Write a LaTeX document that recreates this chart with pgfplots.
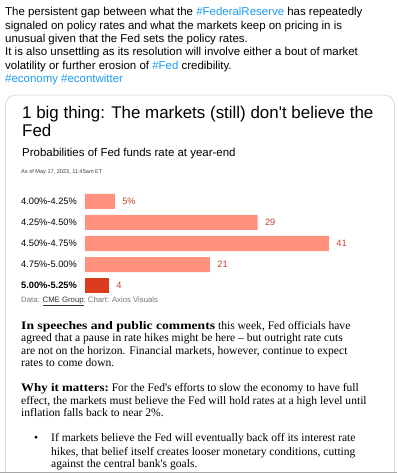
\documentclass[border=0pt]{standalone}
\usepackage{pgfplots}
\pgfplotsset{compat=1.18}
\usepackage{fontspec}
\setmainfont{Liberation Sans}[Ligatures=TeXOff]
\newfontfamily\bodyserif{Liberation Serif}[Ligatures=TeXOff]
\definecolor{twblue}{HTML}{1D9BF0}
\definecolor{barlight}{HTML}{FF917D}
\definecolor{bardark}{HTML}{DC3C1E}
\definecolor{vallab}{HTML}{C0452B}
\definecolor{cardline}{HTML}{D6DDE1}
\definecolor{srcgray}{HTML}{777777}
\begin{document}
\begin{tikzpicture}[x=1bp,y=1bp]
\path[use as bounding box] (0,0) rectangle (397,-473);
\fill[white] (0,0) rectangle (397,-473);
\begin{scope}
\clip (0,0) rectangle (397,-473);
% tweet text
\def\tw{\fontsize{11.5}{13}\selectfont}
\tikzset{tl/.style={anchor=base west, inner sep=0pt}}
\node[tl] at (5,1) {\tw From: \textcolor{twblue}{@Axios}};
\node[tl] at (5,-16) {\tw The persistent gap between what the \textcolor{twblue}{\#FederalReserve} has repeatedly};
\node[tl] at (5,-29.4) {\tw signaled on policy rates and what the markets keep on pricing in is};
\node[tl] at (5,-42.7) {\tw unusual given that the Fed sets the policy rates.};
\node[tl] at (5,-56) {\tw It is also unsettling as its resolution will involve either a bout of market};
\node[tl] at (5,-69.3) {\tw volatility or further erosion of \textcolor{twblue}{\#Fed} credibility.};
\node[tl] at (5,-83) {\tw \textcolor{twblue}{\#economy \#econtwitter}};
% card
\draw[cardline, line width=0.8bp, rounded corners=10bp] (5.5,-95) rectangle (394.5,-490);
\draw[black!35, line width=1bp] (0,-472.5) -- (397,-472.5);
% card title
\def\ttl{\fontsize{17}{19}\selectfont}
\node[tl] at (22,-118.3) {\ttl 1 big thing: The markets (still) don't believe the};
\node[tl] at (22,-137) {\ttl Fed};
\node[tl] at (22,-156.7) {\fontsize{11.5}{14}\selectfont Probabilities of Fed funds rate at year-end};
\node[tl] at (21,-174) {\fontsize{5.6}{6}\selectfont\color{black!75} As of May 17, 2023, 11:45am ET};
\node[tl] at (21,-302) {\fontsize{7.8}{9}\selectfont\color{srcgray} Data: \textcolor{black!80}{\underline{CME Group}}; Chart: Axios Visuals};
% body text
\def\bd{\bodyserif\fontsize{11.6}{12.5}\selectfont}
\node[tl] at (21,-329.3) {\bd \scalebox{1.18}[1]{\textbf{In speeches and public comments}} this week, Fed officials have};
\node[tl] at (21,-341.7) {\bd agreed that a pause in rate hikes might be here – but outright rate cuts};
\node[tl] at (21,-354.3) {\bd are not on the horizon. Financial markets, however, continue to expect};
\node[tl] at (21,-366.7) {\bd rates to come down.};
\node[tl] at (21,-391) {\bd \scalebox{1.12}[1]{\textbf{Why it matters:}} For the Fed's efforts to slow the economy to have full};
\node[tl] at (21,-404) {\bd effect, the markets must believe the Fed will hold rates at a high level until};
\node[tl] at (21,-416.5) {\bd inflation falls back to near 2\%.};
\node[tl] at (34,-441.7) {\bd \textbullet};
\node[tl] at (51,-441.7) {\bd If markets believe the Fed will eventually back off its interest rate};
\node[tl] at (51,-455) {\bd hikes, that belief itself creates looser monetary conditions, cutting};
\node[tl] at (51,-467.7) {\bd against the central bank's goals.};
\end{scope}
\coordinate (axpos) at (85,-191);
\begin{axis}[
  at={(axpos)}, anchor=north west,
  scale only axis, width=297.5bp, height=105bp,
  xmin=0, xmax=50, ymin=-0.5, ymax=4.5,
  xbar, bar width=15bp, bar shift=0pt,
  axis line style={draw=none}, major tick length=0pt,
  xtick=\empty, ytick={0,1,2,3,4},
  yticklabels={\textbf{5.00\%-5.25\%},4.75\%-5.00\%,4.50\%-4.75\%,4.25\%-4.50\%,4.00\%-4.25\%},
  yticklabel style={anchor=west, xshift=-64bp, inner sep=0pt, font=\fontsize{9.3}{10}\selectfont},
  nodes near coords, point meta=explicit symbolic,
  every node near coord/.append style={anchor=west, xshift=4bp, font=\fontsize{9.3}{10}\selectfont, text=vallab},
  clip=false,
]
\addplot[draw=none, fill=barlight] coordinates {(5,4) [5\%] (29,3) [29] (41,2) [41] (21,1) [21]};
\addplot[draw=none, fill=bardark] coordinates {(4,0) [4]};
\end{axis}
\end{tikzpicture}
\end{document}
